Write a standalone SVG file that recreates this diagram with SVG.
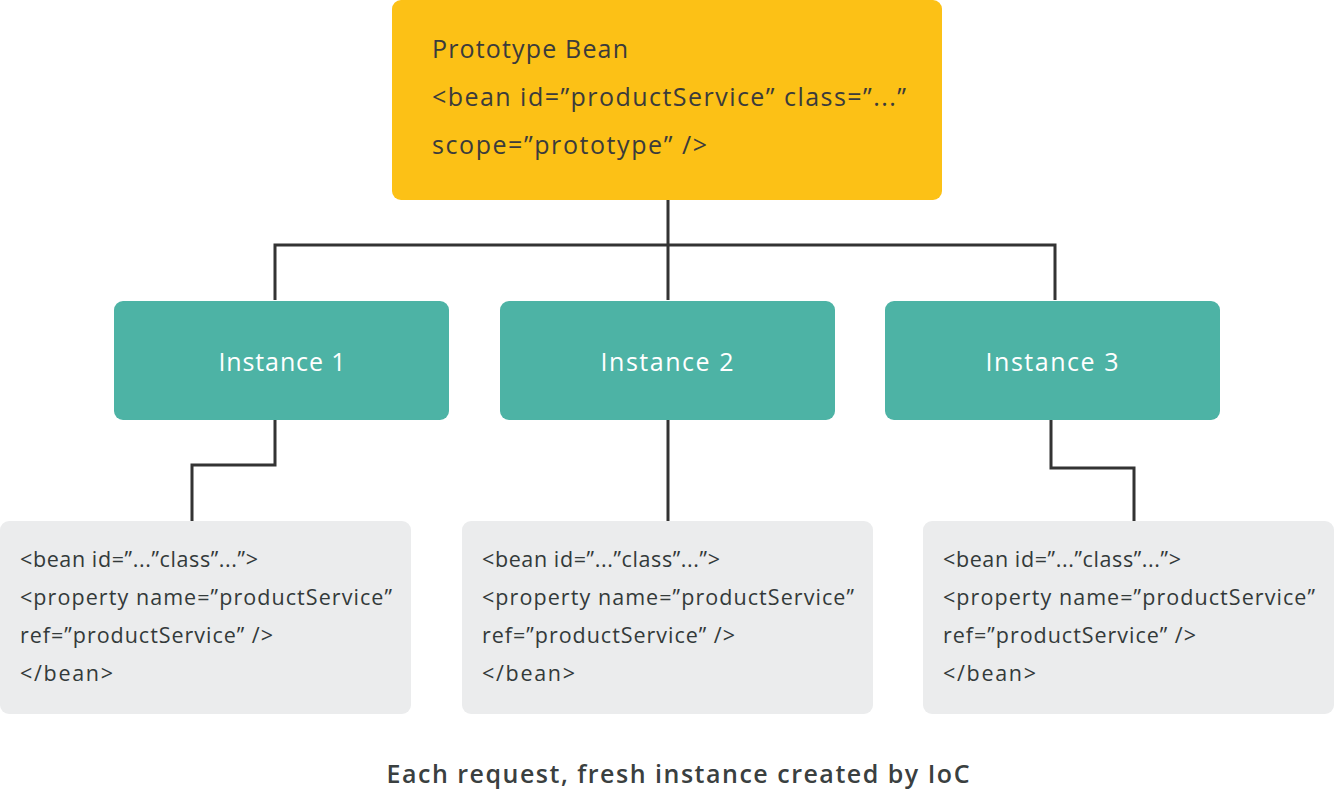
<svg xmlns="http://www.w3.org/2000/svg" width="1335" height="792" viewBox="0 0 1335 792">
<style>
.t{font-family:"Open Sans","Noto Sans","Liberation Sans",sans-serif;}
.top{font-size:25px;fill:#3b3b3b;}
.inst{font-size:25px;fill:#ffffff;text-anchor:middle;}
.code{font-size:21.5px;fill:#333a3a;}
.cap{font-size:25px;font-weight:600;fill:#3a4040;text-anchor:middle;}
.con{fill:none;stroke:#333333;stroke-width:3;}
</style>
<rect width="1335" height="792" fill="#ffffff"/>
<g id="connectors">
<path class="con" d="M668,200 V245 M275,300 V245 H1055 V300 M668,245 V300"/>
<path class="con" d="M275,420 V465 H192 V521"/>
<path class="con" d="M668,420 V521"/>
<path class="con" d="M1051,420 V468 H1134 V521"/>
</g>
<g id="prototype">
<rect x="392" y="0" width="550" height="200" rx="9" fill="#fcc116"/>
<text class="t top" x="432" y="58" textLength="196" lengthAdjust="spacing">Prototype Bean</text>
<text class="t top" x="432" y="106" textLength="474" lengthAdjust="spacing">&lt;bean id=”productService” class=”...”</text>
<text class="t top" x="432" y="154" textLength="275" lengthAdjust="spacing">scope=”prototype” /&gt;</text>
</g>
<g id="instance1">
<rect x="114" y="301" width="335" height="119" rx="9" fill="#4db3a5"/>
<text class="t inst" x="282" y="371" textLength="127" lengthAdjust="spacing">Instance 1</text>
</g>
<g id="instance2">
<rect x="500" y="301" width="335" height="119" rx="9" fill="#4db3a5"/>
<text class="t inst" x="667" y="371" textLength="133" lengthAdjust="spacing">Instance 2</text>
</g>
<g id="instance3">
<rect x="885" y="301" width="335" height="119" rx="9" fill="#4db3a5"/>
<text class="t inst" x="1052" y="371" textLength="133" lengthAdjust="spacing">Instance 3</text>
</g>
<g id="code1">
<rect x="0" y="521" width="411" height="193" rx="9" fill="#ebeced"/>
<text class="t code" x="20" y="567" textLength="238" lengthAdjust="spacing">&lt;bean id=”...”class”...”&gt;</text>
<text class="t code" x="20" y="605" textLength="372" lengthAdjust="spacing">&lt;property name=”productService”</text>
<text class="t code" x="20" y="643" textLength="253" lengthAdjust="spacing">ref=”productService” /&gt;</text>
<text class="t code" x="20" y="681" textLength="93" lengthAdjust="spacing">&lt;/bean&gt;</text>
</g>
<g id="code2">
<rect x="462" y="521" width="411" height="193" rx="9" fill="#ebeced"/>
<text class="t code" x="482" y="567" textLength="238" lengthAdjust="spacing">&lt;bean id=”...”class”...”&gt;</text>
<text class="t code" x="482" y="605" textLength="372" lengthAdjust="spacing">&lt;property name=”productService”</text>
<text class="t code" x="482" y="643" textLength="253" lengthAdjust="spacing">ref=”productService” /&gt;</text>
<text class="t code" x="482" y="681" textLength="93" lengthAdjust="spacing">&lt;/bean&gt;</text>
</g>
<g id="code3">
<rect x="923" y="521" width="411" height="193" rx="9" fill="#ebeced"/>
<text class="t code" x="943" y="567" textLength="238" lengthAdjust="spacing">&lt;bean id=”...”class”...”&gt;</text>
<text class="t code" x="943" y="605" textLength="372" lengthAdjust="spacing">&lt;property name=”productService”</text>
<text class="t code" x="943" y="643" textLength="253" lengthAdjust="spacing">ref=”productService” /&gt;</text>
<text class="t code" x="943" y="681" textLength="93" lengthAdjust="spacing">&lt;/bean&gt;</text>
</g>
<g id="caption">
<text class="t cap" x="678" y="783" textLength="583" lengthAdjust="spacing">Each request, fresh instance created by IoC</text>
</g>
</svg>
